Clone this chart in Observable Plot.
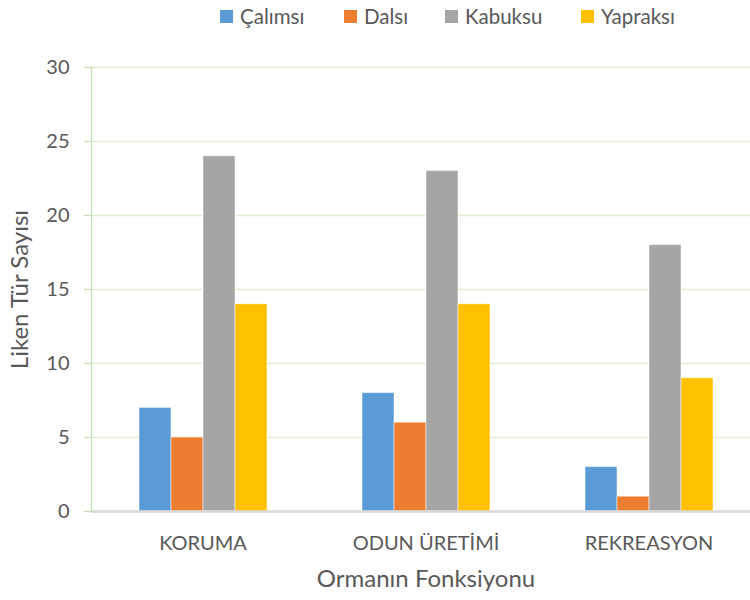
<!DOCTYPE html>
<html>
<head>
<meta charset="utf-8">
<script src="https://cdn.jsdelivr.net/npm/d3@7"></script>
<script src="https://cdn.jsdelivr.net/npm/@observablehq/plot@0.6"></script>
<style>
  body { margin: 0; background: #fff; font-family: Lato, "Open Sans", sans-serif; }
  #legend { position: relative; height: 34px; }
  .item { position: absolute; top: 4px; display: flex; align-items: center; font-size: 20.5px; color: #595959; }
  .sw { width: 13px; height: 13px; margin-right: 7px; }
  #chart [aria-label$="axis label"] { font-size: 24px; }
</style>
</head>
<body>
<div id="legend"></div>
<div id="chart"></div>
<script>
const categories = ["KORUMA", "ODUN ÜRETİMİ", "REKREASYON"];
const series = ["Çalımsı", "Dalsı", "Kabuksu", "Yapraksı"];
const calimsi = [7, 8, 3];
const dalsi = [5, 6, 1];
const kabuksu = [24, 23, 18];
const yapraksi = [14, 14, 9];
const colors = ["#5B9BD5", "#ED7D31", "#A5A5A5", "#FFC000"];
const yTicks = [0, 5, 10, 15, 20, 25, 30];

const values = [calimsi, dalsi, kabuksu, yapraksi];
const rows = [];
categories.forEach((c, i) => series.forEach((s, j) => rows.push({cat: c, series: s, value: values[j][i]})));

// legend
const legendX = [220, 344, 445, 581];
const legend = document.getElementById("legend");
series.forEach((s, j) => {
  const it = document.createElement("div");
  it.className = "item";
  it.style.left = legendX[j] + "px";
  it.innerHTML = `<span class="sw" style="background:${colors[j]}"></span><span>${s}</span>`;
  legend.appendChild(it);
});

const chart = Plot.plot({
  width: 750,
  height: 566,
  marginTop: 33,
  marginBottom: 89,
  marginLeft: 91,
  marginRight: -10,
  style: {fontFamily: "Lato, 'Open Sans', sans-serif", fontSize: "20px", color: "#595959", background: "#fff"},
  fx: {domain: categories, padding: 0},
  x: {domain: series, paddingInner: 0, paddingOuter: 1.484, axis: null},
  y: {domain: [0, 30]},
  color: {domain: series, range: colors},
  marks: [
    Plot.gridY(yTicks, {stroke: "#DDEDD2", strokeOpacity: 1, strokeWidth: 1.3}),
    Plot.barY(rows, {fx: "cat", x: "series", y: "value", fill: "series", stroke: "#ffffff", strokeOpacity: 0.5, strokeWidth: 1}),
    Plot.ruleY([0], {stroke: "#D9D9D9", strokeWidth: 2.5}),
    Plot.frame({anchor: "left", stroke: "#C5E0B4", strokeWidth: 1.3, facetAnchor: "left"}),
    Plot.axisY(yTicks, {tickSize: 7, tickFormat: () => "", stroke: "#C5E0B4", strokeWidth: 1.3, label: null}),
    Plot.axisY(yTicks, {tickSize: 0, tickPadding: 22, fill: "#595959", label: "Liken Tür Sayısı", labelArrow: "none", labelAnchor: "center", labelOffset: 81, fontSize: 20}),
    Plot.axisFx({anchor: "bottom", tickSize: 0, tickPadding: 24, label: "Ormanın Fonksiyonu", labelArrow: "none", labelAnchor: "center", labelOffset: 75, fontSize: 20, fill: "#595959"})
  ]
});
document.getElementById("chart").appendChild(chart);
</script>
</body>
</html>
